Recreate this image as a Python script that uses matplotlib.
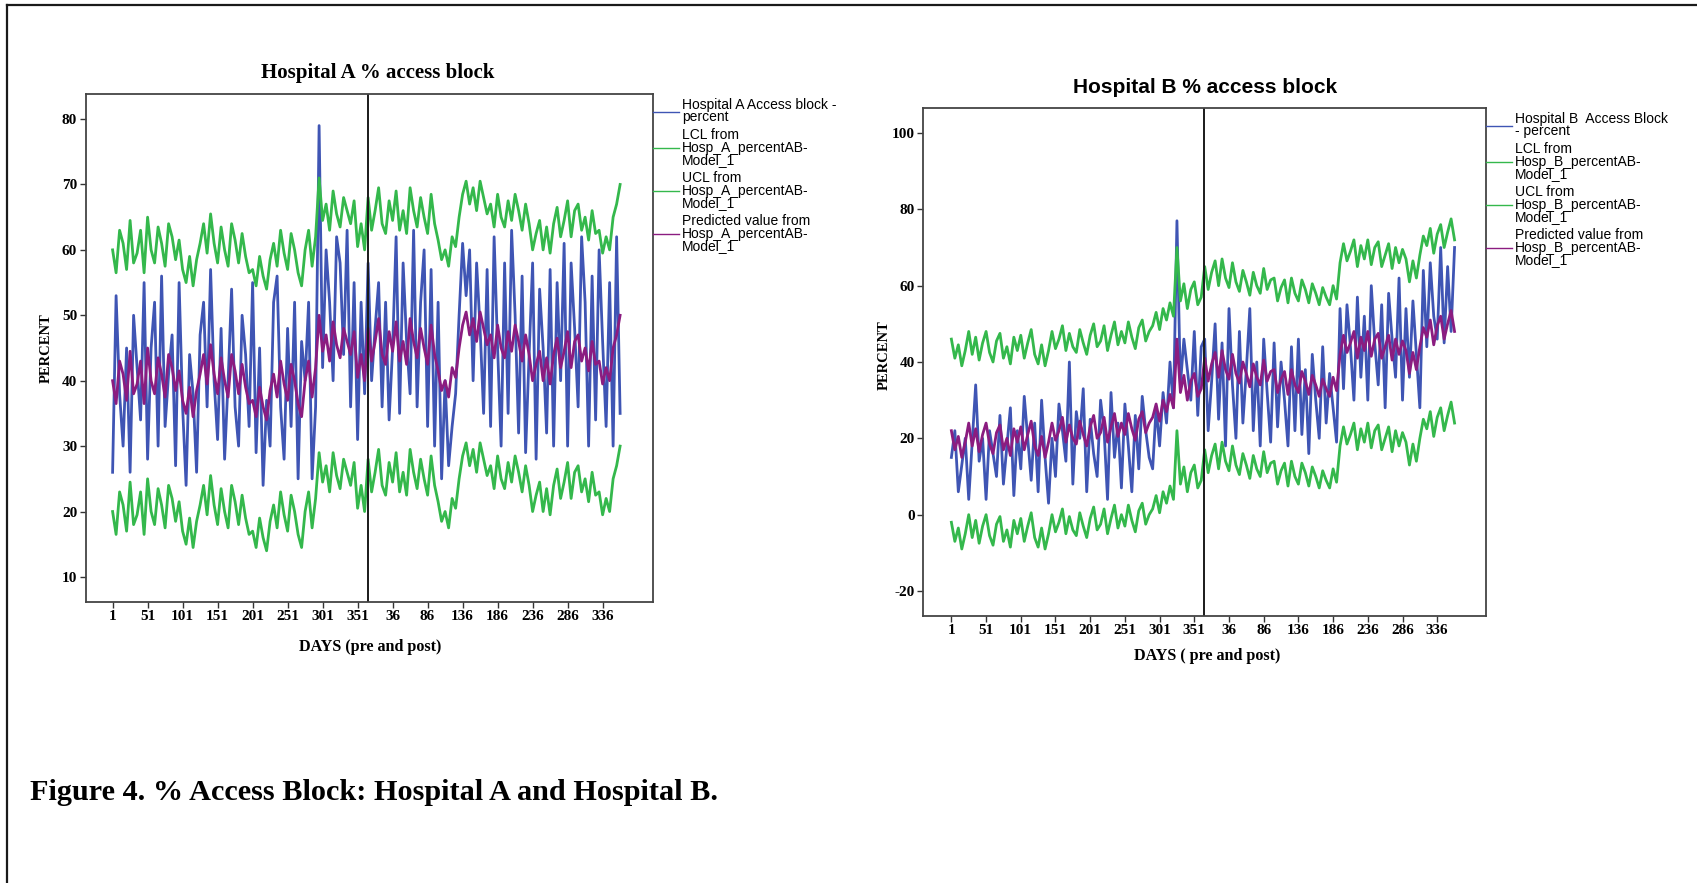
"""
Figure 4 -- % access block, Hospital A and Hospital B.
SPSS-style control charts: observed %, LCL, UCL and model prediction,
365 days before and 365 days after the intervention (read every 5 days).
"""
import matplotlib
matplotlib.use("Agg")
import matplotlib.pyplot as plt
from matplotlib.lines import Line2D
import numpy as np

W, H = 1697, 883
SERIF = "Liberation Serif"
SANS = "Liberation Sans"
BLUE = "#3f55b4"
GREEN = "#34b84c"
PURPLE = "#8b1c80"
LW = 2.0

# day index 1..730 (pre 1-365, post 366-730), sampled every 5 days
days = np.arange(1, 731, 5)
tick_days_pre = [1, 51, 101, 151, 201, 251, 301, 351]
tick_days_post = [36, 86, 136, 186, 236, 286, 336]

# ---- Hospital A ----
blue_a_pre = [26, 53, 38, 30, 45, 26, 50, 42, 34, 55,
              28, 45, 52, 30, 56, 33, 41, 47, 27, 55,
              36, 24, 44, 38, 26, 47, 52, 36, 57, 40,
              31, 48, 28, 40, 54, 36, 30, 50, 44, 33,
              55, 29, 45, 24, 37, 30, 52, 56, 36, 28,
              48, 33, 52, 25, 46, 40, 52, 25, 36, 79,
              42, 60, 52, 40, 62, 58, 44, 63, 36, 55,
              31, 52, 38]
blue_a_post = [58, 40, 48, 55, 36, 52, 34, 45, 62, 35,
               58, 46, 38, 63, 36, 52, 60, 33, 57, 30,
               52, 25, 40, 27, 33, 38, 50, 61, 53, 60,
               40, 58, 48, 35, 57, 33, 62, 45, 30, 58,
               35, 63, 50, 32, 56, 29, 44, 58, 28, 54,
               45, 32, 57, 30, 55, 40, 61, 30, 58, 48,
               36, 62, 52, 30, 56, 34, 60, 46, 33, 55,
               30, 62, 35]
pred_a_pre = [40, 36.5, 43, 41, 37, 44.5, 38, 39.5, 43, 36.5,
              45, 40, 38, 43.5, 41, 37.5, 44, 42, 38.5, 41.5,
              37, 35, 39, 34.5, 38.5, 41, 44, 39.5, 45.5, 41,
              38, 43.5, 40, 37.5, 44, 41.5, 38, 42.5, 39, 36.5,
              37, 34.5, 39, 36, 34, 38.5, 41, 37.5, 43, 39.5,
              37, 42.5, 40, 36.5, 34.5, 40, 43, 37.5, 42, 50,
              44.5, 47, 43, 49, 45.5, 43.5, 48, 46, 44, 47.5,
              40.5, 44, 40]
pred_a_post = [48, 43, 46, 49.5, 44, 42.5, 47.5, 44.5, 49, 43,
               46, 42.5, 49.5, 46, 43.5, 48, 45, 42.5, 48.5, 44,
               41.5, 38.5, 40, 37.5, 42, 40.5, 45, 48.5, 50.5, 47,
               49.5, 46, 50.5, 48, 45.5, 47, 43.5, 48.5, 45, 43.5,
               47.5, 44.5, 48.5, 46, 43, 47, 44, 40, 42.5, 44.5,
               40, 43.5, 39.5, 44, 46.5, 42, 44.5, 47.5, 42, 46,
               47, 43, 45, 41.5, 46, 42.5, 43, 39.5, 42, 40,
               45, 47, 50]
ucl_a_pre = [60, 56.5, 63, 61, 57, 64.5, 58, 59.5, 63, 56.5,
             65, 60, 58, 63.5, 61, 57.5, 64, 62, 58.5, 61.5,
             57, 55, 59, 54.5, 58.5, 61, 64, 59.5, 65.5, 61,
             58, 63.5, 60, 57.5, 64, 61.5, 58, 62.5, 59, 56.5,
             57, 54.5, 59, 56, 54, 58.5, 61, 57.5, 63, 59.5,
             57, 62.5, 60, 56.5, 54.5, 60, 63, 57.5, 62, 71,
             64.5, 67, 63, 69, 65.5, 63.5, 68, 66, 64, 67.5,
             60.5, 64, 60]
ucl_a_post = [68, 63, 66, 69.5, 64, 62.5, 67.5, 64.5, 69, 63,
              66, 62.5, 69.5, 66, 63.5, 68, 65, 62.5, 68.5, 64,
              61.5, 58.5, 60, 57.5, 62, 60.5, 65, 68.5, 70.5, 67,
              69.5, 66, 70.5, 68, 65.5, 67, 63.5, 68.5, 65, 63.5,
              67.5, 64.5, 68.5, 66, 63, 67, 64, 60, 62.5, 64.5,
              60, 63.5, 59.5, 64, 66.5, 62, 64.5, 67.5, 62, 66,
              67, 63, 65, 61.5, 66, 62.5, 63, 59.5, 62, 60,
              65, 67, 70]
lcl_a_pre = [20, 16.5, 23, 21, 17, 24.5, 18, 19.5, 23, 16.5,
             25, 20, 18, 23.5, 21, 17.5, 24, 22, 18.5, 21.5,
             17, 15, 19, 14.5, 18.5, 21, 24, 19.5, 25.5, 21,
             18, 23.5, 20, 17.5, 24, 21.5, 18, 22.5, 19, 16.5,
             17, 14.5, 19, 16, 14, 18.5, 21, 17.5, 23, 19.5,
             17, 22.5, 20, 16.5, 14.5, 20, 23, 17.5, 22, 29,
             24.5, 27, 23, 29, 25.5, 23.5, 28, 26, 24, 27.5,
             20.5, 24, 20]
lcl_a_post = [28, 23, 26, 29.5, 24, 22.5, 27.5, 24.5, 29, 23,
              26, 22.5, 29.5, 26, 23.5, 28, 25, 22.5, 28.5, 24,
              21.5, 18.5, 20, 17.5, 22, 20.5, 25, 28.5, 30.5, 27,
              29.5, 26, 30.5, 28, 25.5, 27, 23.5, 28.5, 25, 23.5,
              27.5, 24.5, 28.5, 26, 23, 27, 24, 20, 22.5, 24.5,
              20, 23.5, 19.5, 24, 26.5, 22, 24.5, 27.5, 22, 26,
              27, 23, 25, 21.5, 26, 22.5, 23, 19.5, 22, 20,
              25, 27, 30]

# ---- Hospital B ----
blue_b_pre = [15, 22, 6, 13, 20, 4, 19, 34, 14, 20,
              4, 22, 16, 10, 26, 8, 18, 28, 5, 22,
              12, 31, 20, 9, 24, 6, 30, 15, 3, 20,
              10, 29, 22, 14, 40, 8, 27, 20, 33, 6,
              25, 16, 10, 30, 22, 4, 32, 15, 24, 7,
              29, 18, 6, 26, 12, 31, 22, 15, 12, 28,
              18, 32, 24, 40, 28, 77, 34, 46, 38, 30,
              48, 26, 44]
blue_b_post = [46, 22, 35, 50, 25, 45, 18, 54, 34, 20,
               48, 24, 38, 54, 22, 40, 18, 46, 32, 19,
               45, 23, 40, 30, 18, 44, 22, 46, 21, 38,
               16, 42, 30, 20, 44, 24, 37, 28, 19, 54,
               33, 55, 44, 30, 57, 36, 52, 30, 60, 45,
               34, 55, 28, 58, 46, 36, 62, 30, 54, 36,
               56, 42, 28, 64, 44, 66, 52, 46, 70, 45,
               65, 48, 70]
pred_b_pre = [22, 17, 20.5, 15, 19, 24, 18, 22.5, 16.5, 21,
              24, 18.5, 16, 21.5, 23.5, 17, 20, 15.5, 22.5, 19,
              23, 17, 21, 24.5, 18, 15.5, 20.5, 15, 19, 24,
              19.5, 22, 25.5, 19, 23.5, 20, 18.5, 24.5, 21, 18,
              23, 26, 20, 21.5, 25.5, 19, 23, 26.5, 20.5, 24,
              21, 26.5, 22.5, 19.5, 25, 27, 21.5, 24, 25.5, 29,
              24.5, 30, 27, 31.5, 28, 46, 32, 36.5, 30, 35,
              37, 31, 33]
pred_b_post = [41, 35, 39.5, 42.5, 36, 43, 38, 35.5, 42, 37,
               34.5, 40, 37, 33.5, 39.5, 36, 34, 40.5, 35, 37.5,
               38, 32, 35.5, 37.5, 31.5, 38, 34, 32, 37.5, 35,
               31.5, 36.5, 34, 31, 35.5, 33, 31, 36, 32.5, 42,
               47, 42.5, 45, 48, 41, 46.5, 43, 48, 41.5, 46,
               47.5, 41, 44, 47, 40.5, 46, 42, 45.5, 43, 37,
               42.5, 38, 44, 49, 46.5, 51, 44.5, 49.5, 52, 46,
               50, 53.5, 48]
ucl_b_pre = [46, 41, 44.5, 39, 43, 48, 42, 46.5, 40.5, 45,
             48, 42.5, 40, 45.5, 47.5, 41, 44, 39.5, 46.5, 43,
             47, 41, 45, 48.5, 42, 39.5, 44.5, 39, 43, 48,
             43.5, 46, 49.5, 43, 47.5, 44, 42.5, 48.5, 45, 42,
             47, 50, 44, 45.5, 49.5, 43, 47, 50.5, 44.5, 48,
             45, 50.5, 46.5, 43.5, 49, 51, 45.5, 48, 49.5, 53,
             48.5, 54, 51, 55.5, 52, 70, 56, 60.5, 54, 59,
             61, 55, 57]
ucl_b_post = [65, 59, 63.5, 66.5, 60, 67, 62, 59.5, 66, 61,
              58.5, 64, 61, 57.5, 63.5, 60, 58, 64.5, 59, 61.5,
              62, 56, 59.5, 61.5, 55.5, 62, 58, 56, 61.5, 59,
              55.5, 60.5, 58, 55, 59.5, 57, 55, 60, 56.5, 66,
              71, 66.5, 69, 72, 65, 70.5, 67, 72, 65.5, 70,
              71.5, 65, 68, 71, 64.5, 70, 66, 69.5, 67, 61,
              66.5, 62, 68, 73, 70.5, 75, 68.5, 73.5, 76, 70,
              74, 77.5, 72]
lcl_b_pre = [-2, -7, -3.5, -9, -5, 0, -6, -1.5, -7.5, -3,
             0, -5.5, -8, -2.5, -0.5, -7, -4, -8.5, -1.5, -5,
             -1, -7, -3, 0.5, -6, -8.5, -3.5, -9, -5, 0,
             -4.5, -2, 1.5, -5, -0.5, -4, -5.5, 0.5, -3, -6,
             -1, 2, -4, -2.5, 1.5, -5, -1, 2.5, -3.5, 0,
             -3, 2.5, -1.5, -4.5, 1, 3, -2.5, 0, 1.5, 5,
             0.5, 6, 3, 7.5, 4, 22, 8, 12.5, 6, 11,
             13, 7, 9]
lcl_b_post = [17, 11, 15.5, 18.5, 12, 19, 14, 11.5, 18, 13,
              10.5, 16, 13, 9.5, 15.5, 12, 10, 16.5, 11, 13.5,
              14, 8, 11.5, 13.5, 7.5, 14, 10, 8, 13.5, 11,
              7.5, 12.5, 10, 7, 11.5, 9, 7, 12, 8.5, 18,
              23, 18.5, 21, 24, 17, 22.5, 19, 24, 17.5, 22,
              23.5, 17, 20, 23, 16.5, 22, 18, 21.5, 19, 13,
              18.5, 14, 20, 25, 22.5, 27, 20.5, 25.5, 28, 22,
              26, 29.5, 24]

labels_a = ["Hospital A Access block -\npercent",
            "LCL from\nHosp_A_percentAB-\nModel_1",
            "UCL from\nHosp_A_percentAB-\nModel_1",
            "Predicted value from\nHosp_A_percentAB-\nModel_1"]
labels_b = ["Hospital B  Access Block\n- percent",
            "LCL from\nHosp_B_percentAB-\nModel_1",
            "UCL from\nHosp_B_percentAB-\nModel_1",
            "Predicted value from\nHosp_B_percentAB-\nModel_1"]


def draw_panel(ax, blue, lcl, ucl, pred, labels, xlim, ylim, yticks):
    ax.plot(days, blue, color=BLUE, lw=LW)
    ax.plot(days, lcl, color=GREEN, lw=LW)
    ax.plot(days, ucl, color=GREEN, lw=LW)
    ax.plot(days, pred, color=PURPLE, lw=LW)
    ax.axvline(365.5, color="#1a1a1a", lw=1.4)

    ax.set_xlim(*xlim)
    ax.set_ylim(*ylim)
    ticks = tick_days_pre + [365 + d for d in tick_days_post]
    ax.set_xticks(ticks)
    ax.set_xticklabels([str(d) for d in tick_days_pre + tick_days_post])
    ax.set_yticks(yticks)
    ax.set_yticklabels([str(v) for v in yticks])
    ax.tick_params(direction="out", length=4, width=1, pad=2,
                   top=False, right=False, color="#333333")
    for lab in ax.get_xticklabels() + ax.get_yticklabels():
        lab.set_family(SERIF)
        lab.set_weight("bold")
        lab.set_size(11)
    for sp in ax.spines.values():
        sp.set_color("#444444")
        sp.set_linewidth(1.3)

    handles = [Line2D([], [], color=c, lw=1)
               for c in (BLUE, GREEN, GREEN, PURPLE)]
    leg = ax.legend(handles, labels, loc="upper left", bbox_to_anchor=(1.0, 0.993),
                    frameon=False, borderpad=0, borderaxespad=0,
                    handlelength=1.9, handletextpad=0.2, labelspacing=0.26,
                    prop={"family": SANS, "size": 10})
    for t in leg.get_texts():
        t.set_linespacing(0.88)


fig = plt.figure(figsize=(W / 100, H / 100), dpi=100)

ax_a = fig.add_axes([85.5 / W, 1 - 601.8 / H, 567.1 / W, 507.6 / H])
draw_panel(ax_a,
           blue_a_pre + blue_a_post, lcl_a_pre + lcl_a_post,
           ucl_a_pre + ucl_a_post, pred_a_pre + pred_a_post,
           labels_a, (-37.7, 772.4), (6.2, 83.8), [10, 20, 30, 40, 50, 60, 70, 80])
ax_a.text(0.5154, 1.0427, "Hospital A % access block", transform=ax_a.transAxes,
          ha="center", va="center", family=SERIF, weight="bold", size=15)
ax_a.text(-0.069, 0.5, "PERCENT", transform=ax_a.transAxes, rotation=90,
          ha="center", va="center", family=SERIF, weight="bold", size=10.5)
ax_a.text(0.5017, -0.089, "DAYS (pre and post)", transform=ax_a.transAxes,
          ha="center", va="center", family=SERIF, weight="bold", size=11.6)

ax_b = fig.add_axes([923.2 / W, 1 - 615.8 / H, 562.8 / W, 507.6 / H])
draw_panel(ax_b,
           blue_b_pre + blue_b_post, lcl_b_pre + lcl_b_post,
           ucl_b_pre + ucl_b_post, pred_b_pre + pred_b_post,
           labels_b, (-39.6, 771.3), (-26.5, 106.5), [-20, 0, 20, 40, 60, 80, 100])
ax_b.text(0.5, 1.0398, "Hospital B % access block", transform=ax_b.transAxes,
          ha="center", va="center", family=SANS, weight="bold", size=15)
ax_b.text(-0.0697, 0.514, "PERCENT", transform=ax_b.transAxes, rotation=90,
          ha="center", va="center", family=SERIF, weight="bold", size=10.5)
ax_b.text(0.504, -0.079, "DAYS ( pre and post)", transform=ax_b.transAxes,
          ha="center", va="center", family=SERIF, weight="bold", size=11.6)

# page frame (top and left edges of the boxed figure)
fig.add_artist(Line2D([6.5 / W, 6.5 / W], [0, 1 - 4.5 / H],
                      transform=fig.transFigure, color="#1a1a1a", lw=1.6))
fig.add_artist(Line2D([6.5 / W, 1], [1 - 4.5 / H, 1 - 4.5 / H],
                      transform=fig.transFigure, color="#1a1a1a", lw=1.6))

fig.text(30 / W, 1 - 792 / H, "Figure 4. % Access Block: Hospital A and Hospital B.",
         ha="left", va="center", family=SERIF, weight="bold", size=21.8)

fig.savefig("out.png", dpi=100)
